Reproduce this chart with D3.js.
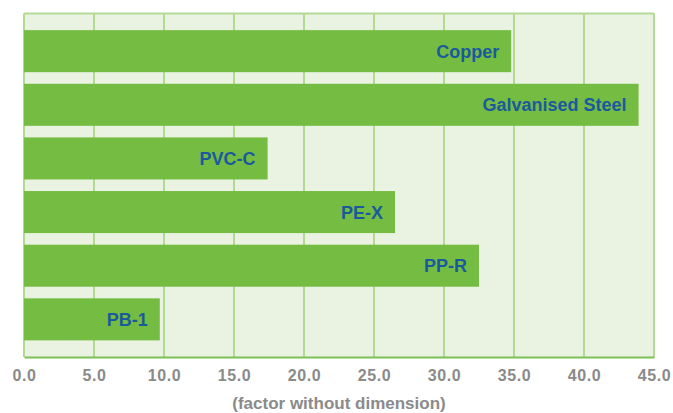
<!DOCTYPE html>
<html>
<head>
<meta charset="utf-8">
<script src="https://cdn.jsdelivr.net/npm/d3@7/dist/d3.min.js"></script>
<style>
  html, body { margin: 0; padding: 0; background: #ffffff; }
  svg { display: block; }
</style>
</head>
<body>
<svg id="chart" width="673" height="413"></svg>
<script>
// Pipe materials and their factor values
const materials = ["Copper", "Galvanised Steel", "PVC-C", "PE-X", "PP-R", "PB-1"];
const factors = [34.8, 43.9, 17.4, 26.5, 32.5, 9.7];
const tickValues = [0, 5, 10, 15, 20, 25, 30, 35, 40, 45];
const axisTitle = "(factor without dimension)";

const W = 673, H = 413;
const plot = { left: 24, right: 654, top: 13.5, bottom: 357 };

const svg = d3.select("#chart");

const x = d3.scaleLinear().domain([0, 45]).range([plot.left, plot.right]);
const y = d3.scaleBand()
  .domain(materials)
  .range([plot.top, plot.bottom])
  .paddingInner(0.216)
  .paddingOuter(0.31);

// Plot background
svg.append("rect")
  .attr("x", plot.left).attr("y", plot.top)
  .attr("width", plot.right - plot.left).attr("height", plot.bottom - plot.top)
  .attr("fill", "#eaf3e2");

// Vertical grid lines
svg.append("g")
  .selectAll("line")
  .data(tickValues.slice(1, -1))
  .join("line")
  .attr("x1", d => x(d)).attr("x2", d => x(d))
  .attr("y1", plot.top).attr("y2", plot.bottom)
  .attr("stroke", "#b2da95").attr("stroke-width", 2);

// Frame: light top/left/right, darker bottom
const frame = svg.append("g").attr("fill", "none");
frame.append("line").attr("x1", plot.left).attr("x2", plot.right)
  .attr("y1", plot.top).attr("y2", plot.top)
  .attr("stroke", "#b2da95").attr("stroke-width", 2);
frame.append("line").attr("x1", plot.left).attr("x2", plot.left)
  .attr("y1", plot.top).attr("y2", plot.bottom)
  .attr("stroke", "#b2da95").attr("stroke-width", 2);
frame.append("line").attr("x1", plot.right).attr("x2", plot.right)
  .attr("y1", plot.top).attr("y2", plot.bottom)
  .attr("stroke", "#b2da95").attr("stroke-width", 2);

// Bars
const data = materials.map((m, i) => ({ name: m, value: factors[i] }));
svg.append("g")
  .selectAll("rect")
  .data(data)
  .join("rect")
  .attr("x", x(0))
  .attr("y", d => y(d.name))
  .attr("width", d => x(d.value) - x(0))
  .attr("height", y.bandwidth())
  .attr("fill", "#75bd42");

// Bar labels, right-aligned inside each bar
svg.append("g")
  .selectAll("text")
  .data(data)
  .join("text")
  .attr("x", d => x(d.value) - 12)
  .attr("y", d => y(d.name) + y.bandwidth() / 2)
  .attr("dy", "0.36em")
  .attr("text-anchor", "end")
  .attr("font-family", "'Liberation Sans', Arial, sans-serif")
  .attr("font-weight", "bold")
  .attr("font-size", 18)
  .attr("fill", "#1a5a9c")
  .text(d => d.name);

// Bottom axis
const xAxis = d3.axisBottom(x)
  .tickValues(tickValues)
  .tickFormat(d3.format(".1f"))
  .tickSize(0)
  .tickPadding(13);

const axisG = svg.append("g")
  .attr("transform", `translate(0,${plot.bottom})`)
  .call(xAxis);
axisG.select(".domain").attr("stroke", "#7dbf55").attr("stroke-width", 2);
axisG.selectAll("text")
  .attr("font-family", "'Liberation Sans', Arial, sans-serif")
  .attr("font-weight", "bold")
  .attr("font-size", 16)
  .attr("letter-spacing", 0.6)
  .attr("fill", "#8a8a8a");

// Axis title
svg.append("text")
  .attr("x", (plot.left + plot.right) / 2)
  .attr("y", 409)
  .attr("text-anchor", "middle")
  .attr("font-family", "'Liberation Sans', Arial, sans-serif")
  .attr("font-weight", "bold")
  .attr("font-size", 17)
  .attr("fill", "#8a8a8a")
  .text(axisTitle);
</script>
</body>
</html>
